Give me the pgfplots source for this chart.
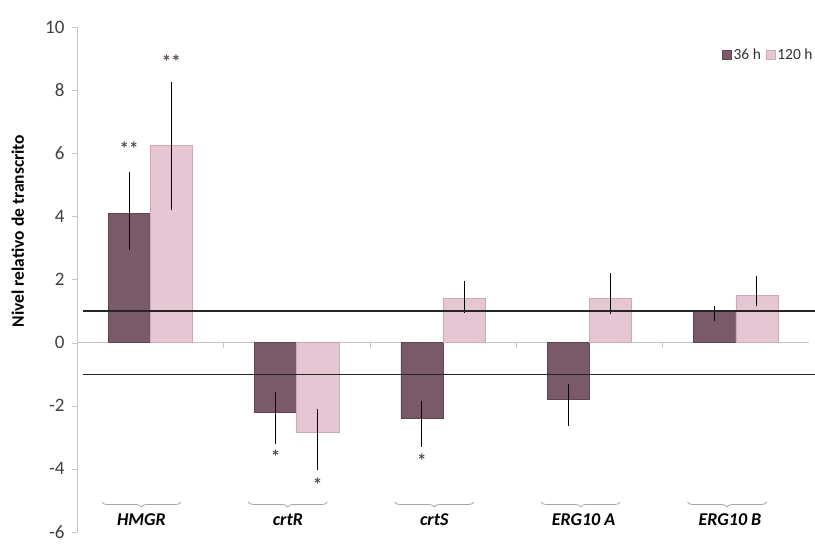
\documentclass[border=0pt]{standalone}
\usepackage{pgfplots}
\pgfplotsset{compat=1.18}
\usepackage{pgfplotstable}
\usepackage{fontspec}
\setmainfont{Carlito}
\usetikzlibrary{decorations.pathreplacing}
\definecolor{darkbar}{HTML}{7A5A69}
\definecolor{darkedge}{HTML}{5E4452}
\definecolor{lightbar}{HTML}{E5C6D2}
\definecolor{lightedge}{HTML}{CDA8B7}
\definecolor{astcol}{HTML}{5A4A55}

\pgfplotstableread{
x y ep em
-0.144 4.1  1.3  1.15
0.856 -2.2 0.65 1.0
1.856 -2.4 0.55 0.9
2.856 -1.8 0.5  0.85
3.856 1.0  0.15 0.3
}\tabA

\pgfplotstableread{
x y ep em
0.144 6.25 2.0  2.05
1.144 -2.85 0.75 1.2
2.144 1.4  0.55 0.45
3.144 1.4  0.8  0.5
4.144 1.5  0.6  0.35
}\tabB

\pgfplotstableread{
x y lab
-0.144 6.15 **
0.144 8.9 **
0.856 -3.6 *
1.144 -4.5 *
1.856 -3.75 *
}\asttab

\pgfplotstableread{
x y lab
-0.06 -5.6 HMGR
0.94 -5.6 crtR
1.94 -5.6 crtS
2.96 -5.6 {ERG10 A}
3.96 -5.6 {ERG10 B}
}\labtab

\pgfplotsset{mylegend/.style={legend image code/.code={\fill[##1] (0pt,-4.5pt) rectangle (9pt,4.5pt);}}}

\begin{document}
\begin{tikzpicture}
\useasboundingbox (0,0) rectangle (815pt,553pt);
\begin{axis}[
  at={(77pt,21pt)}, anchor=south west,
  scale only axis, width=732pt, height=505pt,
  xmin=-0.5, xmax=4.5, ymin=-6, ymax=10,
  axis x line=middle, axis y line=left,
  axis line style={draw=gray!45, -},
  xtick={0.5,1.5,2.5,3.5}, xticklabels={},
  ytick={-6,-4,...,10},
  tick style={draw=gray!45},
  major tick length=5pt, tick align=outside,
  /pgf/number format/assume math mode=true,
  yticklabel style={font=\fontsize{19}{19}\selectfont, text=black!75, xshift=-4pt},
  ylabel={\textbf{Nivel relativo de transcrito}},
  every axis y label/.style={at={(axis description cs:-0.081,0.596)}, rotate=90, anchor=center, font=\fontsize{17.5}{17.5}\selectfont},
  clip=false,
  legend columns=2,
  legend style={at={(axis description cs:1.012,0.945)}, anchor=east, draw=none, fill=none,
    font=\fontsize{15.5}{15.5}\selectfont, text=black!80,
    /tikz/every even column/.append style={column sep=3pt}},
]
\addplot[ybar, bar width=0.288, bar shift=0pt, fill=darkbar, draw=darkedge, mylegend,
  error bars/.cd, y dir=both, y explicit, error mark=none,
  error bar style={black, line width=1.1pt}]
  table[x=x, y=y, y error plus=ep, y error minus=em] {\tabA};
\addlegendentry{36 h}
\addplot[ybar, bar width=0.288, bar shift=0pt, fill=lightbar, draw=lightedge, mylegend,
  error bars/.cd, y dir=both, y explicit, error mark=none,
  error bar style={black, line width=1.1pt}]
  table[x=x, y=y, y error plus=ep, y error minus=em] {\tabB};
\addlegendentry{120 h}

\addplot[black!85, line width=1.3pt, forget plot] coordinates {(-0.46,1) (4.54,1)};
\addplot[black!85, line width=1.3pt, forget plot] coordinates {(-0.46,-1) (4.54,-1)};

\addplot[only marks, mark=none, forget plot, point meta=explicit symbolic,
  nodes near coords, nodes near coords align={center},
  every node near coord/.append style={anchor=center, font=\bfseries\fontsize{19}{19}\selectfont, text=astcol}]
  table[x=x, y=y, meta=lab] {\asttab};

\foreach \c in {0,1,2,3,4} {
  \edef\tmp{\noexpand\addplot[gray!70, line width=0.8pt, forget plot, decorate,
    decoration={brace, mirror, amplitude=5pt}]
    coordinates {(\c-0.33,-5.05) (\c+0.21,-5.05)};}
  \tmp
}

\addplot[only marks, mark=none, forget plot, point meta=explicit symbolic,
  nodes near coords, nodes near coords align={center},
  every node near coord/.append style={anchor=center, font=\bfseries\itshape\fontsize{18}{18}\selectfont, text=black}]
  table[x=x, y=y, meta=lab] {\labtab};
\end{axis}
\end{tikzpicture}
\end{document}
